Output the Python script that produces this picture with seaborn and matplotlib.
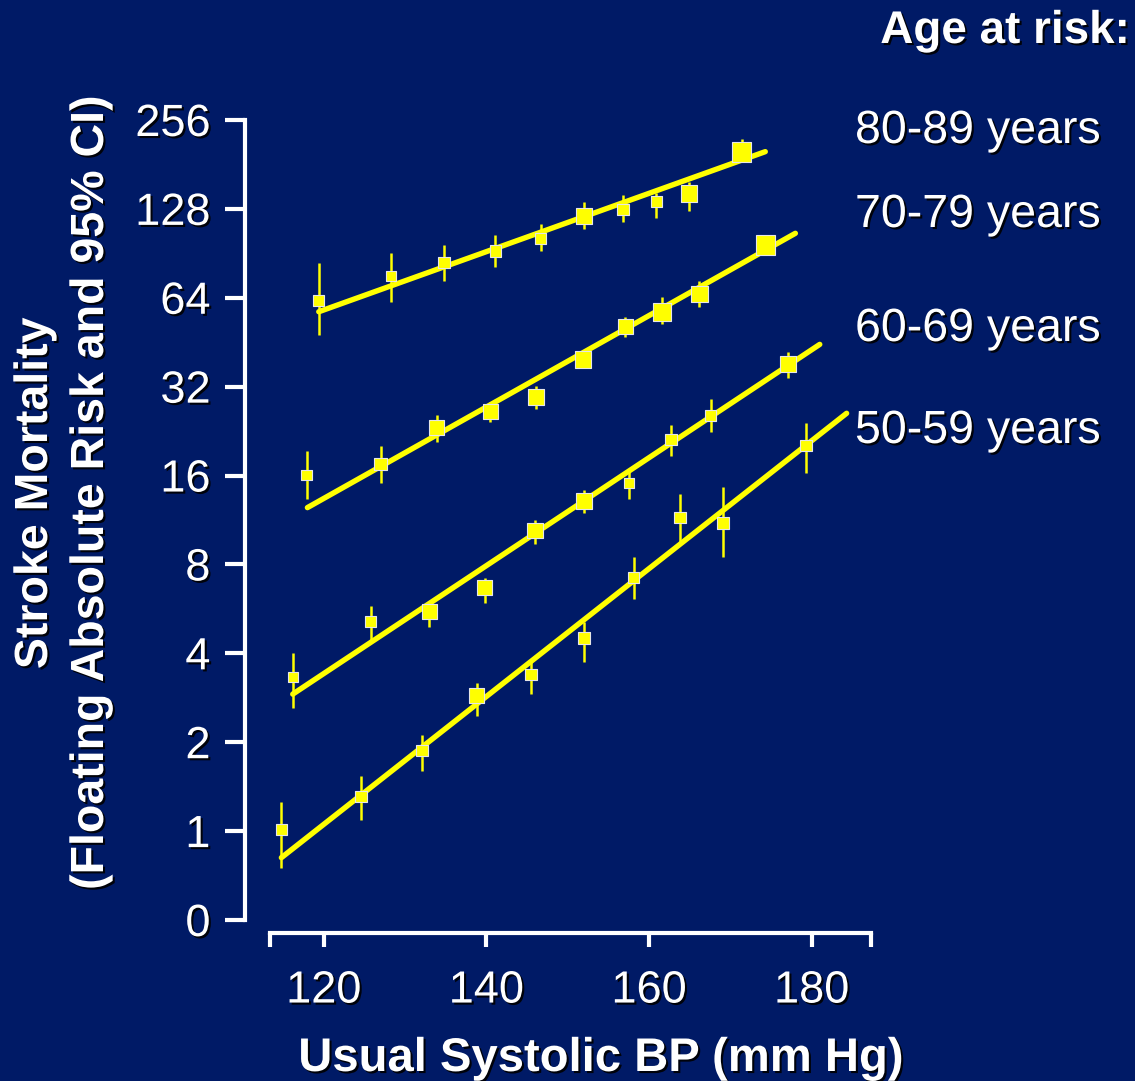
import numpy as np
import pandas as pd
import matplotlib
matplotlib.use("Agg")
import matplotlib.pyplot as plt
import matplotlib.patheffects as pe
import seaborn as sns

# ---------------------------------------------------------------------------
# Data: usual systolic BP (mm Hg), stroke mortality (floating absolute risk)
# with 95% CI, and relative box size (statistical weight) per age band.
# ---------------------------------------------------------------------------
age_groups = ["80-89 years", "70-79 years", "60-69 years", "50-59 years"]

sbp_80 = [119.4, 128.3, 134.8, 141.1, 146.7, 152.0, 156.8, 160.9, 164.9, 171.4]
risk_80 = [62.8, 75.8, 84.1, 92.2, 101.8, 121.1, 127.6, 135.4, 144.1, 199.1]
lo_80 = [47.9, 62.1, 73.0, 81.6, 92.2, 109.4, 115.8, 119.5, 125.9, 185.0]
hi_80 = [84.1, 90.9, 96.6, 104.4, 113.8, 135.4, 142.6, 144.9, 158.2, 220.7]
box_80 = [11, 10, 11, 11, 11, 15, 11, 11, 16, 19]
fit_x_80 = [119.4, 174.3]
fit_y_80 = [57.4, 200.0]

sbp_70 = [117.9, 127.0, 133.9, 140.5, 146.1, 151.9, 157.1, 161.6, 166.2, 174.3]
risk_70 = [16.1, 17.5, 23.3, 26.4, 29.5, 39.6, 51.1, 57.3, 65.9, 96.6]
lo_70 = [13.3, 15.1, 20.8, 24.2, 26.8, 37.0, 47.2, 52.2, 59.6, 90.7]
hi_70 = [19.4, 20.2, 25.7, 28.5, 32.2, 42.6, 55.2, 64.3, 72.8, 104.4]
box_70 = [10, 12, 15, 15, 16, 16, 15, 17, 16, 19]
fit_x_70 = [118.0, 178.0]
fit_y_70 = [12.46, 105.8]

sbp_60 = [116.2, 125.8, 133.0, 139.8, 146.0, 152.0, 157.5, 162.7, 167.6, 177.1]
risk_60 = [3.32, 5.12, 5.54, 6.68, 10.41, 13.12, 15.10, 21.2, 25.5, 38.2]
lo_60 = [2.61, 4.44, 4.90, 5.91, 9.39, 11.98, 13.30, 18.7, 22.4, 34.3]
hi_60 = [4.00, 5.79, 5.93, 7.20, 11.32, 14.30, 16.50, 23.7, 29.1, 42.0]
box_60 = [10, 11, 15, 15, 15, 15, 10, 11, 11, 15]
fit_x_60 = [116.2, 181.0]
fit_y_60 = [2.91, 44.5]

sbp_50 = [114.8, 124.6, 132.1, 138.8, 145.5, 152.0, 158.1, 163.8, 169.1, 179.3]
risk_50 = [1.01, 1.31, 1.88, 2.88, 3.40, 4.51, 7.24, 11.52, 11.06, 20.2]
lo_50 = [0.75, 1.09, 1.60, 2.45, 2.91, 3.73, 6.10, 9.55, 8.50, 16.29]
hi_50 = [1.25, 1.54, 2.12, 3.17, 3.82, 5.12, 8.50, 13.86, 14.61, 24.05]
box_50 = [11, 11, 11, 15, 11, 11, 11, 11, 11, 11]
fit_x_50 = [114.8, 184.3]
fit_y_50 = [0.813, 26.0]

y_ticks = [0.5, 1, 2, 4, 8, 16, 32, 64, 128, 256]
y_tick_labels = ["0", "1", "2", "4", "8", "16", "32", "64", "128", "256"]
x_ticks = [113.4, 120, 140, 160, 180, 187.3]
x_tick_labels = ["", "120", "140", "160", "180", ""]

# ---------------------------------------------------------------------------
series = {
    "80-89 years": (sbp_80, risk_80, lo_80, hi_80, box_80, fit_x_80, fit_y_80),
    "70-79 years": (sbp_70, risk_70, lo_70, hi_70, box_70, fit_x_70, fit_y_70),
    "60-69 years": (sbp_60, risk_60, lo_60, hi_60, box_60, fit_x_60, fit_y_60),
    "50-59 years": (sbp_50, risk_50, lo_50, hi_50, box_50, fit_x_50, fit_y_50),
}

points = pd.concat(
    [pd.DataFrame({"age": g, "sbp": s[0], "risk": s[1], "lo": s[2], "hi": s[3], "box": s[4]})
     for g, s in series.items()], ignore_index=True)
fits = pd.concat(
    [pd.DataFrame({"age": g, "sbp": s[5], "risk": s[6]}) for g, s in series.items()],
    ignore_index=True)

BG = "#001a66"
YELLOW = "#ffff00"
W, H = 1135, 1081

sns.set_theme(style="ticks")
plt.rcParams["font.family"] = ["Liberation Sans", "DejaVu Sans"]

fig = plt.figure(figsize=(W / 100, H / 100), dpi=100, facecolor=BG)
ax = fig.add_axes([270 / W, 1 - 920 / H, 601 / W, 800 / H])
ax.set_facecolor(BG)
ax.set_yscale("log", base=2)

# 95% confidence intervals
ax.vlines(points["sbp"], points["lo"], points["hi"], color=YELLOW, lw=1.8, zorder=2)

# fitted log-linear trends
sns.lineplot(data=fits, x="sbp", y="risk", units="age", estimator=None,
             color=YELLOW, lw=3.9, ax=ax, zorder=3, legend=False)

# weighted point estimates
size_map = {b: (b * 0.74) ** 2 for b in sorted(points["box"].unique())}
sns.scatterplot(data=points, x="sbp", y="risk", size="box", sizes=size_map,
                marker="s", color=YELLOW, edgecolor="#e6e6e6", linewidth=0.8,
                ax=ax, zorder=4, legend=False)

ax.set_xlim(113.4, 187.3)
ax.set_ylim(0.5, 256)
ax.set_xlabel("")
ax.set_ylabel("")

for side in ("top", "right"):
    ax.spines[side].set_visible(False)
ax.spines["left"].set_position(("outward", 18))
ax.spines["bottom"].set_position(("outward", 9.4))
for side in ("left", "bottom"):
    ax.spines[side].set_color("white")
    ax.spines[side].set_linewidth(3)

ax.set_yticks(y_ticks)
ax.set_yticklabels(y_tick_labels)
ax.yaxis.set_minor_locator(matplotlib.ticker.NullLocator())
ax.set_xticks(x_ticks)
ax.set_xticklabels(x_tick_labels)
ax.tick_params(axis="y", colors="white", length=14.4, width=3, pad=10.5,
               labelsize=32.5, direction="out")
ax.tick_params(axis="x", colors="white", length=10, width=3, pad=17,
               labelsize=32.5, direction="out")

shadow = [pe.SimplePatchShadow(offset=(1.5, -1.5), shadow_rgbFace="black", alpha=0.9),
          pe.Normal()]
for lbl in ax.get_xticklabels() + ax.get_yticklabels():
    lbl.set_path_effects(shadow)

# axis titles
fig.text(601 / W, 1 - 1071 / H, "Usual Systolic BP (mm Hg)", color="white",
         fontsize=34, fontweight="bold", ha="center", va="baseline",
         path_effects=shadow)
fig.text(47 / W, 1 - 493 / H, "Stroke Mortality", color="white", fontsize=33.5,
         fontweight="bold", ha="center", va="baseline", rotation=90,
         rotation_mode="anchor", path_effects=shadow)
fig.text(103 / W, 1 - 493 / H, "(Floating Absolute Risk and 95% CI)", color="white",
         fontsize=33.5, fontweight="bold", ha="center", va="baseline", rotation=90,
         rotation_mode="anchor", path_effects=shadow)

# age band key
fig.text(1130 / W, 1 - 43 / H, "Age at risk:", color="white", fontsize=33,
         fontweight="bold", ha="right", va="baseline", path_effects=shadow)
label_baselines = [143, 227, 341, 443]
for name, yb in zip(age_groups, label_baselines):
    fig.text(855 / W, 1 - yb / H, name, color="white", fontsize=33.5,
             ha="left", va="baseline", path_effects=shadow)

fig.savefig("out.png", dpi=100, facecolor=BG)
